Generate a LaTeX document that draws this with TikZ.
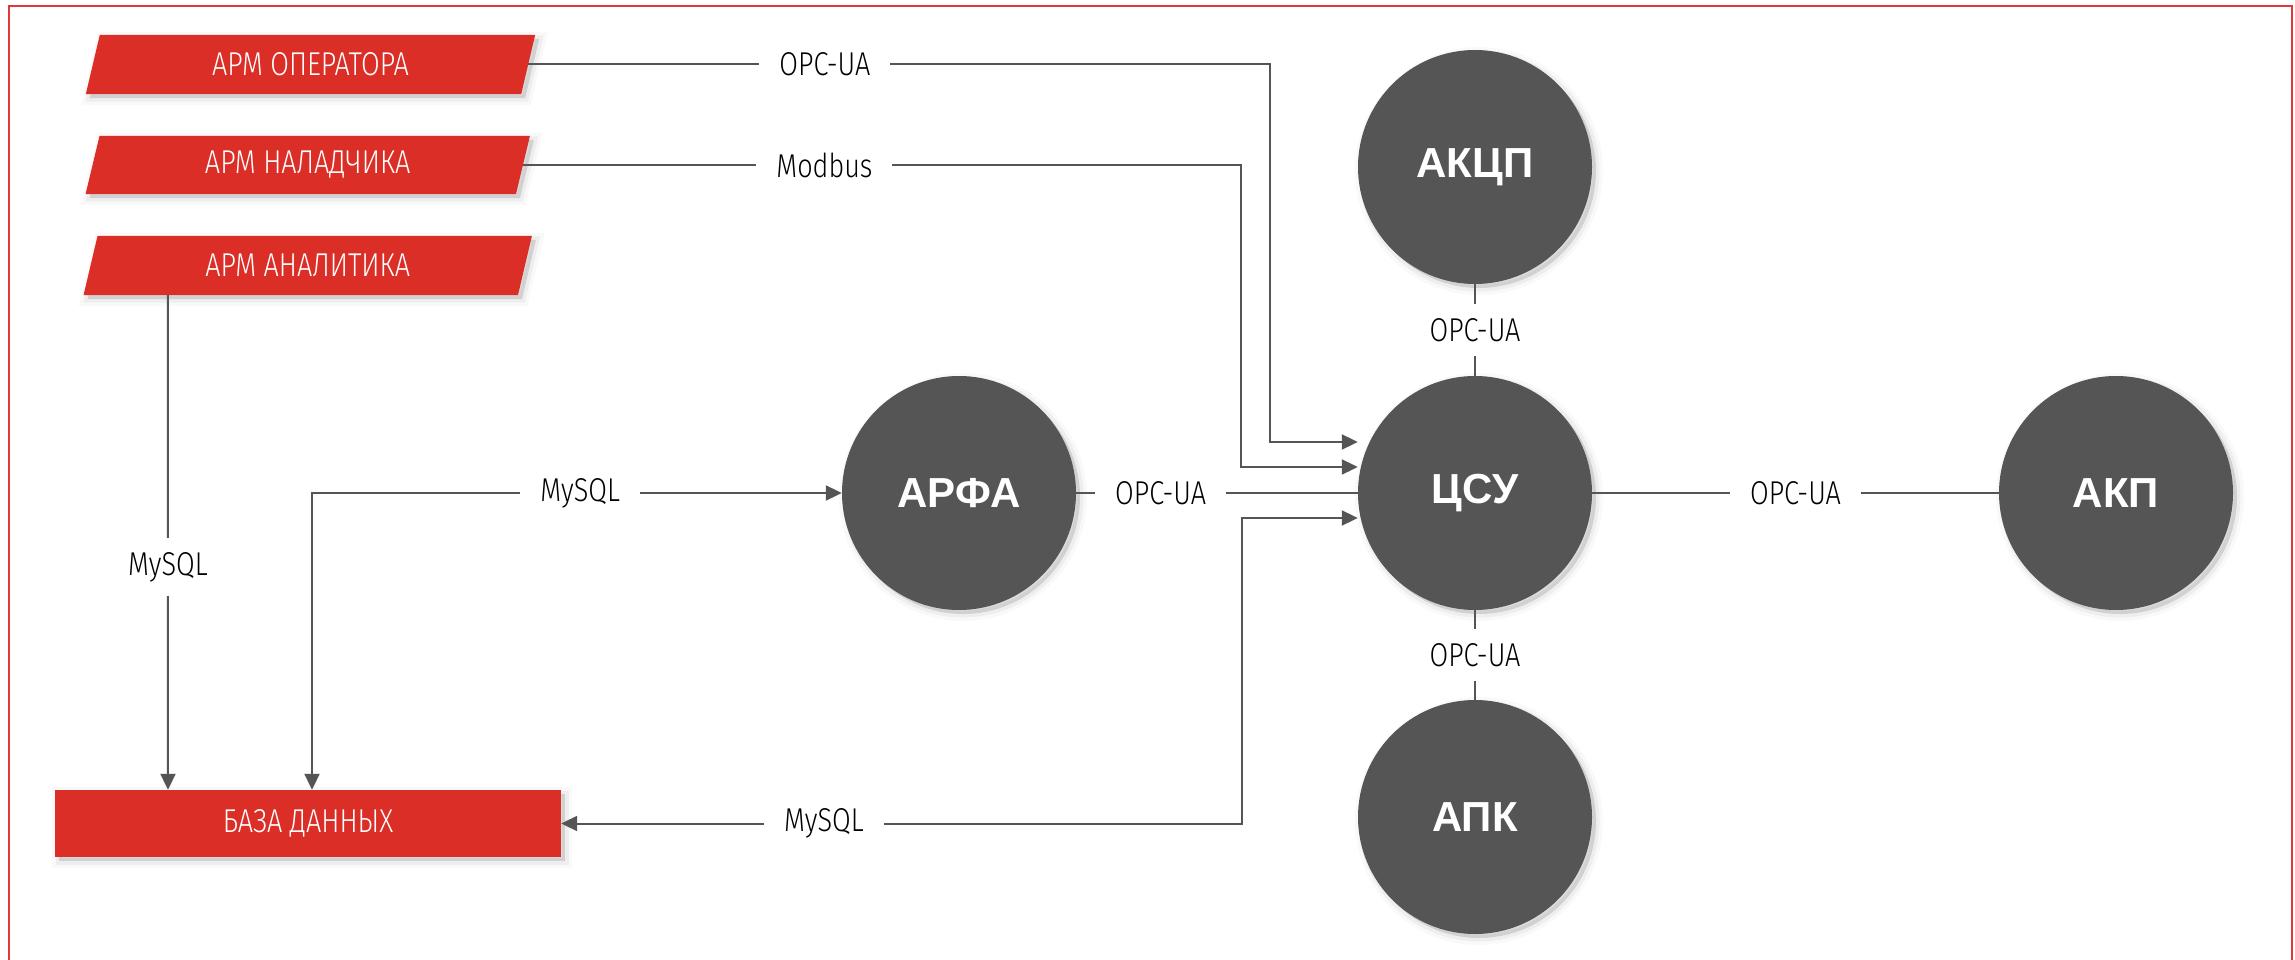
\documentclass[tikz,border=0pt]{standalone}
\usepackage{fontspec}
\newfontfamily\condfont{Fira Sans Light}[FakeStretch=0.82]
\newfontfamily\circfont{Liberation Sans}
\usetikzlibrary{arrows.meta,calc,backgrounds}
\definecolor{redbox}{HTML}{DA2E27}
\definecolor{framec}{HTML}{E0393A}
\definecolor{darkc}{HTML}{555555}
\definecolor{linec}{HTML}{555555}
\begin{document}
\begin{tikzpicture}[x=1pt,y=-1pt,
  softshade/.style={
    preaction={draw=black,line width=14pt,opacity=0.025,transform canvas={xshift=4pt,yshift=-4pt}},
    preaction={draw=black,line width=7pt,opacity=0.045,transform canvas={xshift=4pt,yshift=-4pt}},
    preaction={fill=black,opacity=0.12,transform canvas={xshift=4pt,yshift=-4pt}}},
  circ/.style={circle, fill=darkc, minimum size=234pt, inner sep=0pt, text=white,
    font=\circfont\bfseries\fontsize{42}{44}\selectfont, softshade},
  boxtxt/.style={inner sep=0pt, text=white, font=\condfont\fontsize{33}{35}\selectfont},
  conn/.style={draw=linec, line width=2pt},
  arr/.style={conn, -{Triangle[length=16pt,width=15pt]}},
  biarr/.style={conn, {Triangle[length=16pt,width=15pt]}-{Triangle[length=16pt,width=15pt]}},
  lbl/.style={fill=white, inner xsep=20pt, inner ysep=14pt, text=black,
    font=\condfont\fontsize{33}{35}\selectfont},
]
\useasboundingbox (0,0) rectangle (2295,960);
\draw[framec, line width=2.5pt] (9,6) rectangle (2292,1000);

% left boxes
\node[boxtxt, minimum width=435pt, minimum height=59pt] (op) at (310.5,64.5) {АРМ ОПЕРАТОРА};
\node[boxtxt, minimum width=430pt, minimum height=58pt] (nal) at (307.75,165) {АРМ НАЛАДЧИКА};
\node[boxtxt, minimum width=434pt, minimum height=59pt] (ana) at (307.75,265.5) {АРМ АНАЛИТИКА};
\node[boxtxt, fill=redbox, softshade, minimum width=506pt, minimum height=67pt] (db) at (308,823.5) {БАЗА ДАННЫХ};

\begin{scope}[on background layer]
\foreach \n in {op,nal,ana}{
  \fill[redbox, softshade] ([xshift=-7pt]\n.south west) -- ([xshift=-7pt]\n.south east)
     -- ([xshift=7pt]\n.north east) -- ([xshift=7pt]\n.north west) -- cycle;
}
\end{scope}

% circles
\node[circ] (akcp) at (1475,167) {АКЦП};
\node[circ] (csu) at (1475,493) {ЦСУ};
\node[circ] (arfa) at (959,493) {АРФА};
\node[circ] (akp) at (2116,493) {АКП};
\node[circ] (apk) at (1475,817) {АПК};

% connectors
\draw[arr] (op.east) -| node[lbl,pos=0.2] (l1) {OPC-UA} ([xshift=-88pt,yshift=51pt]csu.west) -- ([yshift=51pt]csu.west);
\draw[arr] (nal.east) -| node[lbl,pos=0.21] (l2) {Modbus} ([xshift=-117pt,yshift=26pt]csu.west) -- ([yshift=26pt]csu.west);
\draw[arr] ([xshift=-140pt]ana.south) -- node[lbl,pos=0.55] (l3) {MySQL} ([xshift=-140pt]db.north);
\draw[biarr] (arfa.west) -| node[lbl,pos=0.247] (l4) {MySQL} ([xshift=4pt]db.north);
\draw[biarr] ([yshift=-25pt]csu.west) -- ([xshift=-116pt,yshift=-25pt]csu.west) |- node[lbl,pos=0.807] (l5) {MySQL} (db.east);
\draw[conn] (arfa) -- node[lbl,pos=0.3] (l6) {OPC-UA} (csu);
\draw[conn] (csu) -- node[lbl] (l7) {OPC-UA} (akp);
\draw[conn] (akcp) -- node[lbl] (l8) {OPC-UA} (csu);
\draw[conn] (csu) -- node[lbl] (l9) {OPC-UA} (apk);
\end{tikzpicture}
\end{document}
